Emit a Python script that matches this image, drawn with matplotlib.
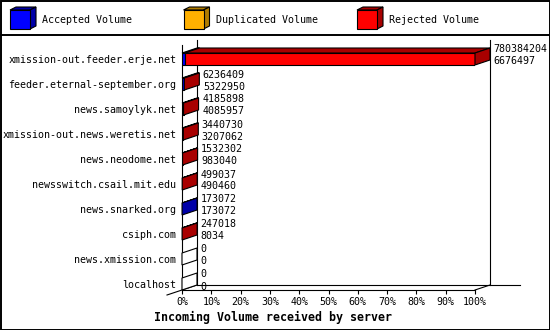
import matplotlib
matplotlib.use("Agg")
import matplotlib.pyplot as plt
from matplotlib.patches import Polygon, Rectangle

servers = ["xmission-out.feeder.erje.net", "feeder.eternal-september.org",
           "news.samoylyk.net", "xmission-out.news.weretis.net",
           "news.neodome.net", "newsswitch.csail.mit.edu", "news.snarked.org",
           "csiph.com", "news.xmission.com", "localhost"]
totals = [780384204, 6236409, 4185898, 3440730, 1532302, 499037, 173072, 247018, 0, 0]
accepted = [6676497, 5322950, 4085957, 3207062, 983040, 490460, 173072, 8034, 0, 0]
duplicated = [0, 0, 0, 0, 0, 0, 0, 0, 0, 0]
rejected = [773707707, 913459, 99941, 233668, 549262, 8577, 0, 238984, 0, 0]

series = ["Accepted Volume", "Duplicated Volume", "Rejected Volume"]
front_cols = ["#0000ff", "#ffb000", "#ff0000"]
dark_cols = ["#0000a8", "#b07c00", "#a80000"]
ticks = list(range(0, 101, 10))

W, H = 550, 330
mono = dict(family="DejaVu Sans Mono", fontsize=7.2)
lw = 0.8

fig = plt.figure(figsize=(W / 100, H / 100), dpi=100)

# frame + legend strip, in pixel units
bg = fig.add_axes([0, 0, 1, 1])
bg.set_xlim(0, W)
bg.set_ylim(H, 0)
bg.axis("off")
bg.add_patch(Rectangle((0.5, 0.5), W - 1, H - 1, fill=False, ec="black", lw=1.4))
bg.plot([0, W], [35, 35], color="black", lw=1.4)
for i, (name, fc, dc) in enumerate(zip(series, front_cols, dark_cols)):
    x0 = 10 + i * 173.5
    bg.add_patch(Polygon([(x0, 10), (x0 + 6, 7), (x0 + 26, 7), (x0 + 20, 10)],
                         fc=dc, ec="black", lw=lw))
    bg.add_patch(Polygon([(x0 + 20, 10), (x0 + 26, 7), (x0 + 26, 26), (x0 + 20, 29)],
                         fc=dc, ec="black", lw=lw))
    bg.add_patch(Rectangle((x0, 10), 20, 19, fc=fc, ec="black", lw=lw))
    bg.text(x0 + 32, 20, name, va="center", ha="left", **mono)

# plot area: x in percent, y in category index
ax = fig.add_axes([182 / W, (H - 290) / H, 293 / W, 245 / H])
ax.set_facecolor("none")
ytop, ybot = -0.56, 9.24
ax.set_xlim(0, 100)
ax.set_ylim(ybot, ytop)
dx = 15 / 2.93   # depth in percent
dy = -0.2        # depth in category units
h = 0.48

for s in ["top", "right"]:
    ax.spines[s].set_visible(False)
for s in ["left", "bottom"]:
    ax.spines[s].set_linewidth(lw)

ax.set_yticks(range(len(servers)))
ax.set_yticklabels(servers, **mono)
ax.tick_params(axis="y", length=0, pad=4)
ax.set_xticks(ticks)
ax.set_xticklabels([f"{t}%" for t in ticks], **mono)
ax.tick_params(axis="x", length=3, width=lw, pad=2, direction="out")

# 3d wall / floor lines
kw = dict(color="black", lw=lw, clip_on=False)
ax.plot([dx, dx], [ytop + dy, ybot + dy], **kw)
ax.plot([100 + dx, 100 + dx], [ytop + dy, ybot + dy], **kw)
ax.plot([dx, 115.4], [ybot + dy, ybot + dy], **kw)
ax.plot([-dx, dx], [ybot - dy, ybot + dy], **kw)
ax.plot([100, 100 + dx], [ybot, ybot + dy], **kw)

vmax = max(totals)
segs = [accepted, duplicated, rejected]
for k in range(len(servers)):
    c = k
    left = 0.0
    last = None
    for j, vals in enumerate(segs):
        w = vals[k] / vmax * 100
        if w <= 0:
            continue
        ax.barh(c, w, left=left, height=h, color=front_cols[j], ec="black", lw=lw, zorder=3)
        top = c - h / 2
        ax.add_patch(Polygon([(left, top), (left + dx, top + dy), (left + w + dx, top + dy),
                              (left + w, top)], fc=dark_cols[j], ec="black", lw=lw,
                             zorder=3, clip_on=False))
        left += w
        last = j
    side = dark_cols[last] if last is not None else "white"
    top, bot = c - h / 2, c + h / 2
    ax.add_patch(Polygon([(left, top), (left + dx, top + dy), (left + dx, bot + dy),
                          (left, bot)], fc=side, ec="black", lw=lw, zorder=4, clip_on=False))
    tx = left + dx + 1.2
    ax.text(tx, c - 0.38, str(totals[k]), va="center", ha="left", **mono)
    ax.text(tx, c + 0.1, str(accepted[k]), va="center", ha="left", **mono)

fig.text(0.497, 1 - 317 / H, "Incoming Volume received by server", ha="center", va="center",
         family="DejaVu Sans Mono", fontsize=8.4, weight="bold")

fig.savefig("out.png", dpi=100)
